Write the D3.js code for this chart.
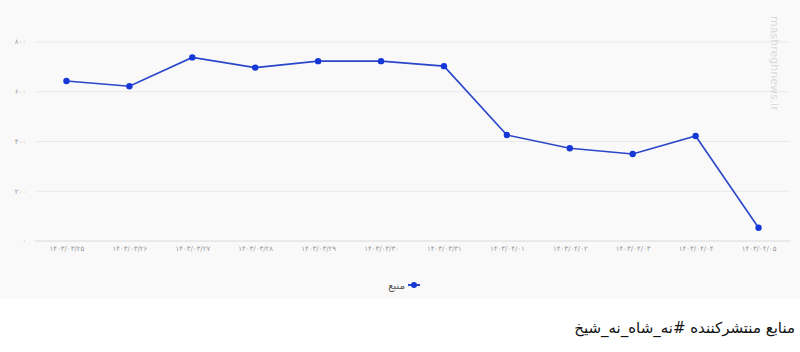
<!DOCTYPE html>
<html lang="fa">
<head>
  <meta charset="UTF-8">
  <title>منبع</title>
  <script src="https://d3js.org/d3.v7.min.js"></script>
  <style>
    body { margin: 0; background: #fff; font-family: "DejaVu Sans", sans-serif; }
    .tick text { fill: #999; font-size: 7px; }
    .caption { font-size: 15px; fill: #111; }
  </style>
</head>
<body>
<script>
  const dates = ["۱۴۰۳/۰۳/۲۵", "۱۴۰۳/۰۳/۲۶", "۱۴۰۳/۰۳/۲۷", "۱۴۰۳/۰۳/۲۸", "۱۴۰۳/۰۳/۲۹", "۱۴۰۳/۰۳/۳۰",
                 "۱۴۰۳/۰۳/۳۱", "۱۴۰۳/۰۴/۰۱", "۱۴۰۳/۰۴/۰۲", "۱۴۰۳/۰۴/۰۳", "۱۴۰۳/۰۴/۰۴", "۱۴۰۳/۰۴/۰۵"];
  const values = [641, 620, 736, 695, 721, 721, 701, 424, 371, 348, 420, 51];
  const yTicks = [0, 200, 400, 600, 800];
  const seriesName = "منبع";
  const caption = "منابع منتشرکننده #نه_شاه_نه_شیخ";

  const toFa = n => String(n).replace(/\d/g, d => "۰۱۲۳۴۵۶۷۸۹"[d]);

  const width = 800, height = 352;
  const svg = d3.select("body").append("svg")
    .attr("width", width)
    .attr("height", height);

  // chart panel background
  svg.append("rect")
    .attr("x", 0).attr("y", 0)
    .attr("width", width).attr("height", 299)
    .attr("fill", "#f9f9f9");

  const x = d3.scalePoint()
    .domain(dates)
    .range([35, 790])
    .padding(0.5);

  const y = d3.scaleLinear()
    .domain([0, 800])
    .range([240.5, 41.5]);

  // horizontal grid + y labels
  svg.append("g")
    .attr("transform", "translate(35,0)")
    .call(d3.axisLeft(y).tickValues(yTicks).tickSize(-755).tickFormat(toFa).tickPadding(9))
    .call(g => g.select(".domain").remove())
    .call(g => g.selectAll(".tick line").attr("stroke", "#e9e9e9"))
    .call(g => g.selectAll(".tick text").attr("font-family", "DejaVu Sans"));

  // x axis labels
  svg.append("g")
    .attr("transform", "translate(0,240.5)")
    .call(d3.axisBottom(x).tickSize(0).tickPadding(6))
    .call(g => g.select(".domain").attr("stroke", "#e2e2e2"))
    .call(g => g.selectAll(".tick text").attr("font-family", "DejaVu Sans"));

  // watermark
  svg.append("text")
    .attr("transform", "translate(771,16) rotate(90)")
    .attr("font-size", 11)
    .attr("fill", "#d9d9d9")
    .text("mashreghnews.ir");

  const line = d3.line()
    .x((d, i) => x(dates[i]))
    .y(d => y(d));

  svg.append("path")
    .datum(values)
    .attr("fill", "none")
    .attr("stroke", "#2a46c9")
    .attr("stroke-width", 1.6)
    .attr("d", line);

  svg.selectAll(".pt")
    .data(values)
    .enter().append("circle")
    .attr("class", "pt")
    .attr("cx", (d, i) => x(dates[i]))
    .attr("cy", d => y(d))
    .attr("r", 3.2)
    .attr("fill", "#1538d6");

  // legend
  const legend = svg.append("g").attr("transform", "translate(414,285)");
  legend.append("line")
    .attr("x1", -6).attr("x2", 6)
    .attr("stroke", "#2a46c9").attr("stroke-width", 2);
  legend.append("circle").attr("r", 3).attr("fill", "#1538d6");
  legend.append("text")
    .attr("x", -9).attr("y", 3.5)
    .attr("text-anchor", "end")
    .attr("font-size", 10)
    .attr("fill", "#555")
    .text(seriesName);

  svg.append("text")
    .attr("class", "caption")
    .attr("x", 795).attr("y", 333)
    .attr("direction", "rtl")
    .attr("text-anchor", "start")
    .text(caption);
</script>
</body>
</html>
